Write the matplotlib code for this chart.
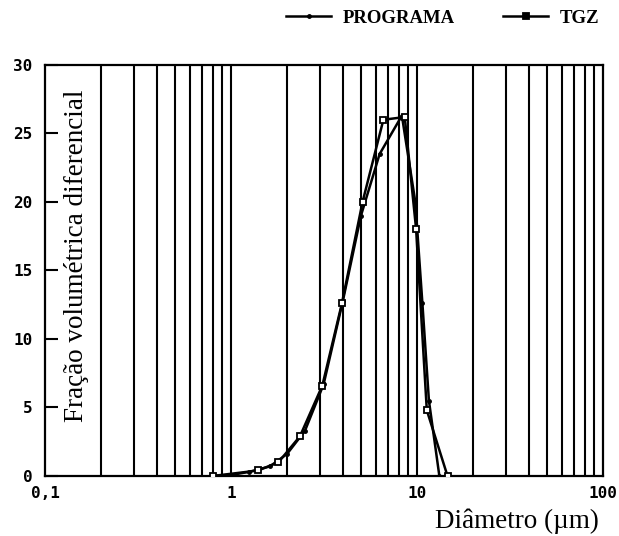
import matplotlib.pyplot as plt
import numpy as np

# diametro (um) e fracao volumetrica diferencial
x_prog = [0.79, 1.03, 1.25, 1.62, 2.0, 2.5, 3.15, 4.0, 5.0, 6.3, 8.3, 9.8, 10.7, 11.6, 13.2]
y_prog = [0.0, 0.1, 0.3, 0.7, 1.6, 3.3, 6.7, 12.8, 19.0, 23.5, 26.3, 20.0, 12.6, 5.5, 0.0]

x_tgz = [0.8, 1.4, 1.8, 2.35, 3.1, 3.95, 5.1, 6.6, 8.6, 9.9, 11.3, 14.6]
y_tgz = [0.0, 0.4, 1.0, 2.9, 6.6, 12.6, 20.0, 26.0, 26.2, 18.0, 4.8, 0.0]

xticks = [0.1, 1, 10, 100]
xticklabels = ['0,1', '1', '10', '100']
yticks = [0, 5, 10, 15, 20, 25, 30]

fig = plt.figure(figsize=(6.19, 5.36), dpi=100)
ax = fig.add_axes([0.0727, 0.112, 0.9013, 0.7668])

ax.set_xscale('log')
ax.set_xlim(0.1, 100)
ax.set_ylim(0, 30)

# vertical grid on every decade step
for dec in [0.1, 1, 10]:
    for k in range(1, 10):
        v = dec * k
        if 0.1 < v < 100:
            ax.axvline(v, color='black', lw=1.5, zorder=1)

ax.plot(x_prog, y_prog, color='black', lw=1.8, marker='o', ms=2.5,
        label='PROGRAMA', zorder=3)
ax.plot(x_tgz, y_tgz, color='black', lw=1.8, marker='s', ms=4.5,
        mfc='white', mec='black', mew=1.3, label='TGZ', zorder=3)

for s in ax.spines.values():
    s.set_linewidth(1.6)

ax.set_xticks(xticks)
ax.set_xticklabels(xticklabels)
ax.xaxis.set_minor_locator(plt.NullLocator())
ax.set_yticks(yticks)
ax.tick_params(axis='y', direction='in', length=9, width=1.5, pad=9)
ax.tick_params(axis='x', direction='in', length=0, pad=7)
for lab in ax.get_xticklabels() + ax.get_yticklabels():
    lab.set_fontfamily('DejaVu Sans Mono')
    lab.set_fontweight('bold')
    lab.set_fontsize(11.5)

ax.text(0.147, 16.1, 'Fração volumétrica diferencial', rotation=90,
        ha='center', va='center', family='Liberation Serif', fontsize=19.5)
fig.text(0.967, 0.004, 'Diâmetro (µm)', ha='right', va='bottom',
         family='Liberation Serif', fontsize=19.5)

leg = fig.legend(loc='upper right', bbox_to_anchor=(0.995, 1.013), ncol=2,
                 frameon=False, handlelength=2.4, handletextpad=0.6,
                 columnspacing=2.6,
                 prop={'family': 'Liberation Serif', 'weight': 'bold', 'size': 13.5})
for h in leg.legend_handles:
    h.set_markerfacecolor('black')

plt.savefig('out.png', dpi=100)
